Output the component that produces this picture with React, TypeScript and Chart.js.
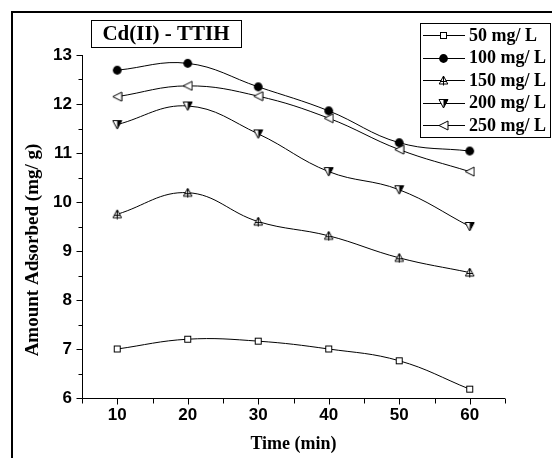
import React, { useEffect, useRef } from "react";
import { Chart, registerables } from "chart.js";

Chart.register(...registerables);

// ---- data ----
const times = [10, 20, 30, 40, 50, 60];
const series50 = [7.0, 7.2, 7.16, 7.0, 6.76, 6.18];
const series100 = [12.69, 12.83, 12.35, 11.86, 11.21, 11.04];
const series150 = [9.75, 10.19, 9.6, 9.31, 8.86, 8.56];
const series200 = [11.58, 11.96, 11.39, 10.62, 10.25, 9.5];
const series250 = [12.15, 12.37, 12.16, 11.71, 11.07, 10.62];
const seriesLabels = ["50 mg/ L", "100 mg/ L", "150 mg/ L", "200 mg/ L", "250 mg/ L"];
const xTickValues = [5, 10, 15, 20, 25, 30, 35, 40, 45, 50, 55, 60, 65];
const yTickValues = [6, 6.5, 7, 7.5, 8, 8.5, 9, 9.5, 10, 10.5, 11, 11.5, 12, 12.5, 13];
const chartTitle = "Cd(II) - TTIH";
const xTitle = "Time (min)";
const yTitle = "Amount Adsorbed (mg/ g)";

type MarkerKind = "square" | "circle" | "triUpCross" | "triDownHalf" | "triLeft";

function makeMarker(kind: MarkerKind): HTMLCanvasElement {
  const c = document.createElement("canvas");
  const S = 11;
  c.width = S;
  c.height = S;
  const ctx = c.getContext("2d")!;
  ctx.lineWidth = 1;
  ctx.strokeStyle = "#000";
  ctx.fillStyle = "#fff";
  if (kind === "square") {
    ctx.fillRect(2.5, 2.5, 6, 6);
    ctx.strokeRect(2.5, 2.5, 6, 6);
  } else if (kind === "circle") {
    ctx.fillStyle = "#000";
    ctx.beginPath();
    ctx.arc(5.5, 5.5, 4.4, 0, Math.PI * 2);
    ctx.fill();
  } else if (kind === "triUpCross") {
    ctx.beginPath();
    ctx.moveTo(5.5, 1);
    ctx.lineTo(9.8, 9);
    ctx.lineTo(1.2, 9);
    ctx.closePath();
    ctx.fill();
    ctx.stroke();
    ctx.beginPath();
    ctx.moveTo(5.5, 1);
    ctx.lineTo(5.5, 10.5);
    ctx.moveTo(2.5, 6.5);
    ctx.lineTo(8.5, 6.5);
    ctx.stroke();
  } else if (kind === "triDownHalf") {
    ctx.beginPath();
    ctx.moveTo(1, 1.5);
    ctx.lineTo(10, 1.5);
    ctx.lineTo(5.5, 10);
    ctx.closePath();
    ctx.fill();
    ctx.fillStyle = "#000";
    ctx.beginPath();
    ctx.moveTo(5.5, 1.5);
    ctx.lineTo(10, 1.5);
    ctx.lineTo(5.5, 10);
    ctx.closePath();
    ctx.fill();
    ctx.beginPath();
    ctx.moveTo(1, 1.5);
    ctx.lineTo(10, 1.5);
    ctx.lineTo(5.5, 10);
    ctx.closePath();
    ctx.stroke();
  } else {
    ctx.beginPath();
    ctx.moveTo(1, 5.5);
    ctx.lineTo(10, 1);
    ctx.lineTo(10, 10);
    ctx.closePath();
    ctx.fill();
    ctx.stroke();
  }
  return c;
}

export default function App() {
  const canvasRef = useRef<HTMLCanvasElement | null>(null);

  useEffect(() => {
    const canvas = canvasRef.current;
    if (!canvas) return;
    const kinds: MarkerKind[] = ["square", "circle", "triUpCross", "triDownHalf", "triLeft"];
    const markers = kinds.map(makeMarker);
    const allSeries = [series50, series100, series150, series200, series250];

    const datasets = allSeries.map((s, i) => ({
      label: seriesLabels[i],
      data: times.map((t, j) => ({ x: t, y: s[j] })),
      borderColor: "#000",
      borderWidth: 1,
      tension: 0.4,
      pointStyle: markers[i] as any,
      pointRadius: 5,
      fill: false,
    }));

    const decor = {
      id: "decor",
      afterDraw(chart: any) {
        const ctx: CanvasRenderingContext2D = chart.ctx;
        const { left, right, top, bottom } = chart.chartArea;
        const xs = chart.scales.x;
        const ys = chart.scales.y;
        ctx.save();
        ctx.fillStyle = "#000";
        // outer frame
        ctx.fillRect(11, 11, chart.width - 11, 2);
        ctx.fillRect(11, 11, 2, chart.height - 11);
        // axes
        ctx.strokeStyle = "#000";
        ctx.lineWidth = 1;
        const L = Math.round(left) + 0.5;
        const B = Math.round(bottom) + 0.5;
        ctx.beginPath();
        ctx.moveTo(L, Math.round(top));
        ctx.lineTo(L, B);
        ctx.lineTo(Math.round(right), B);
        ctx.stroke();
        // y ticks
        ctx.beginPath();
        for (const v of yTickValues) {
          const y = Math.round(ys.getPixelForValue(v)) + 0.5;
          const len = Number.isInteger(v) ? 6 : 4;
          ctx.moveTo(L - len, y);
          ctx.lineTo(L, y);
        }
        // x ticks
        for (const v of xTickValues) {
          const x = Math.round(xs.getPixelForValue(v)) + 0.5;
          const len = v % 10 === 0 ? 6 : 5;
          ctx.moveTo(x, B);
          ctx.lineTo(x, B + len);
        }
        ctx.stroke();
        // axis titles
        ctx.fillStyle = "#000";
        ctx.font = 'bold 18px "Liberation Serif"';
        ctx.textAlign = "center";
        ctx.textBaseline = "middle";
        ctx.fillText(xTitle, (left + right) / 2, 444);
        ctx.save();
        ctx.translate(33, 250);
        ctx.rotate(-Math.PI / 2);
        ctx.font = 'bold 19px "Liberation Serif"';
        ctx.fillText(yTitle, 0, 0);
        ctx.restore();
        // title box
        ctx.strokeRect(91.5, 20.5, 150, 27);
        ctx.font = 'bold 21px "Liberation Serif"';
        ctx.fillText(chartTitle, 166, 35);
        // legend box
        ctx.strokeRect(420.5, 23.5, 130, 114);
        ctx.textAlign = "left";
        ctx.font = 'bold 18px "Liberation Serif"';
        for (let i = 0; i < seriesLabels.length; i++) {
          const cy = 35 + i * 22.5;
          const yy = Math.round(cy) + 0.5;
          ctx.beginPath();
          ctx.moveTo(423, yy);
          ctx.lineTo(465, yy);
          ctx.stroke();
          const m = markers[i];
          ctx.drawImage(m, 443 - m.width / 2 + 0.5, Math.round(cy) - m.height / 2 + 0.5);
          ctx.fillText(seriesLabels[i], 469, cy + 1);
        }
        ctx.restore();
      },
    };

    const chart = new Chart(canvas, {
      type: "line",
      data: { datasets: datasets as any },
      options: {
        animation: false,
        responsive: false,
        maintainAspectRatio: false,
        layout: { padding: { left: 0, top: 55, right: 47, bottom: 0 } },
        plugins: {
          legend: { display: false },
          tooltip: { enabled: false },
          title: { display: false },
        },
        scales: {
          x: {
            type: "linear",
            min: 5,
            max: 65,
            afterFit: (s: any) => {
              s.height = 60;
            },
            afterBuildTicks: (s: any) => {
              s.ticks = xTickValues.map((v) => ({ value: v }));
            },
            grid: { display: false, drawTicks: false },
            border: { display: false },
            ticks: {
              autoSkip: false,
              maxRotation: 0,
              padding: 7,
              color: "#000",
              font: { family: "Liberation Sans", size: 17, weight: "bold" },
              callback: (v: any) => (Number(v) % 10 === 0 && Number(v) >= 10 && Number(v) <= 60 ? String(v) : ""),
            },
          },
          y: {
            type: "linear",
            min: 6,
            max: 13,
            afterFit: (s: any) => {
              s.width = 82;
            },
            afterBuildTicks: (s: any) => {
              s.ticks = yTickValues.map((v) => ({ value: v }));
            },
            grid: { display: false, drawTicks: false },
            border: { display: false },
            ticks: {
              autoSkip: false,
              padding: 10,
              color: "#000",
              font: { family: "Liberation Sans", size: 17, weight: "bold" },
              callback: (v: any) => (Number.isInteger(Number(v)) ? String(v) : ""),
            },
          },
        },
      },
      plugins: [decor],
    });

    return () => {
      chart.destroy();
    };
  }, []);

  return (
    <div style={{ position: "absolute", left: 0, top: 0, width: 552, height: 458, background: "#fff" }}>
      <canvas ref={canvasRef} width={552} height={458} style={{ display: "block", width: 552, height: 458 }} />
    </div>
  );
}
